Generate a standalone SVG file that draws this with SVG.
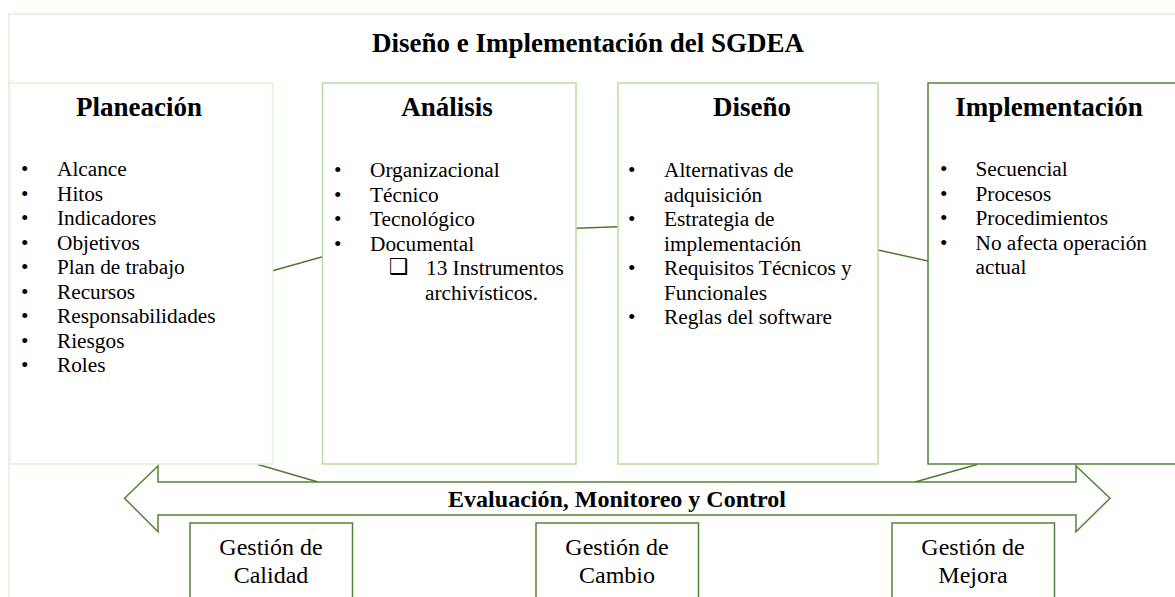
<svg xmlns="http://www.w3.org/2000/svg" width="1175" height="597" viewBox="0 0 1175 597">
<style>
.t{font-family:"Liberation Serif","Times New Roman",serif;fill:#000}
.h{font-weight:bold;font-size:27px;text-anchor:middle}
.b{font-size:21.3px}
.g{font-size:24px;text-anchor:middle}
.lite{fill:#fff;stroke:#e2f0d9;stroke-width:1.5}
.mid{fill:#fff;stroke:#b8dba3;stroke-width:1.5}
.dark{fill:#fff;stroke:#548235;stroke-width:1.5}
.con{fill:none;stroke:#4f7a31;stroke-width:1.5}
</style>
<rect width="1175" height="597" fill="#fff"/>
<g id="frame">
<path d="M9,597 V14 H1175" fill="none" stroke="#e2f0d9" stroke-width="1.5"/>
<text class="t" x="588" y="52" font-size="27" font-weight="bold" text-anchor="middle">Diseño e Implementación del SGDEA</text>
</g>
<g id="connectors">
<line class="con" x1="272.5" y1="270.7" x2="322.5" y2="256.7"/>
<line class="con" x1="576" y1="228.3" x2="618" y2="226.7"/>
<line class="con" x1="878" y1="250" x2="928" y2="261"/>
<line class="con" x1="258" y1="464.5" x2="318" y2="482"/>
<line class="con" x1="977" y1="464.5" x2="915" y2="482"/>
</g>
<g id="planeacion">
<rect class="lite" x="9.5" y="83" width="263" height="381"/>
<text class="t h" x="139" y="116">Planeación</text>
<g class="t b">
<text x="21" y="176">•</text><text x="57" y="176">Alcance</text>
<text x="21" y="200.5">•</text><text x="57" y="200.5">Hitos</text>
<text x="21" y="225">•</text><text x="57" y="225">Indicadores</text>
<text x="21" y="249.5">•</text><text x="57" y="249.5">Objetivos</text>
<text x="21" y="274">•</text><text x="57" y="274">Plan de trabajo</text>
<text x="21" y="298.5">•</text><text x="57" y="298.5">Recursos</text>
<text x="21" y="323">•</text><text x="57" y="323">Responsabilidades</text>
<text x="21" y="347.5">•</text><text x="57" y="347.5">Riesgos</text>
<text x="21" y="372">•</text><text x="57" y="372">Roles</text>
</g>
</g>
<g id="analisis">
<rect class="mid" x="322.5" y="83" width="253.5" height="381"/>
<text class="t h" x="447" y="116">Análisis</text>
<g class="t b">
<text x="334" y="177">•</text><text x="370" y="177">Organizacional</text>
<text x="334" y="201.5">•</text><text x="370" y="201.5">Técnico</text>
<text x="334" y="226">•</text><text x="370" y="226">Tecnológico</text>
<text x="334" y="250.5">•</text><text x="370" y="250.5">Documental</text>
<text x="389" y="274" font-family="DejaVu Sans,sans-serif" font-size="22">❑</text><text x="426" y="275">13 Instrumentos</text>
<text x="425" y="299.5">archivísticos.</text>
</g>
</g>
<g id="diseno">
<rect class="mid" x="618" y="83" width="260" height="381"/>
<text class="t h" x="752" y="116">Diseño</text>
<g class="t b">
<text x="628" y="177">•</text><text x="664" y="177">Alternativas de</text>
<text x="664" y="201.5">adquisición</text>
<text x="628" y="226">•</text><text x="664" y="226">Estrategia de</text>
<text x="664" y="250.5">implementación</text>
<text x="628" y="275">•</text><text x="664" y="275">Requisitos Técnicos y</text>
<text x="664" y="299.5">Funcionales</text>
<text x="628" y="324">•</text><text x="664" y="324">Reglas del software</text>
</g>
</g>
<g id="implementacion">
<rect class="dark" x="928" y="83" width="260" height="381"/>
<text class="t h" x="1049" y="116">Implementación</text>
<g class="t b">
<text x="940" y="176">•</text><text x="975.5" y="176">Secuencial</text>
<text x="940" y="200.5">•</text><text x="975.5" y="200.5">Procesos</text>
<text x="940" y="225">•</text><text x="975.5" y="225">Procedimientos</text>
<text x="940" y="249.5">•</text><text x="975.5" y="249.5">No afecta operación</text>
<text x="975.5" y="274">actual</text>
</g>
</g>
<g id="evaluacion">
<path class="dark" d="M124.5,498.3 L158,466 V482 H1076 V466 L1110,498.3 L1076,531.7 V515 H158 V531.7 Z"/>
<text class="t" x="617" y="506.5" font-size="24" font-weight="bold" text-anchor="middle">Evaluación, Monitoreo y Control</text>
</g>
<g id="calidad">
<rect class="dark" x="190" y="523" width="162.5" height="90"/>
<text class="t g" x="271" y="555">Gestión de</text>
<text class="t g" x="271" y="583">Calidad</text>
</g>
<g id="cambio">
<rect class="dark" x="536" y="523" width="162.5" height="90"/>
<text class="t g" x="617" y="555">Gestión de</text>
<text class="t g" x="617" y="583">Cambio</text>
</g>
<g id="mejora">
<rect class="dark" x="892" y="523" width="162.5" height="90"/>
<text class="t g" x="973" y="555">Gestión de</text>
<text class="t g" x="973" y="583">Mejora</text>
</g>
</svg>
